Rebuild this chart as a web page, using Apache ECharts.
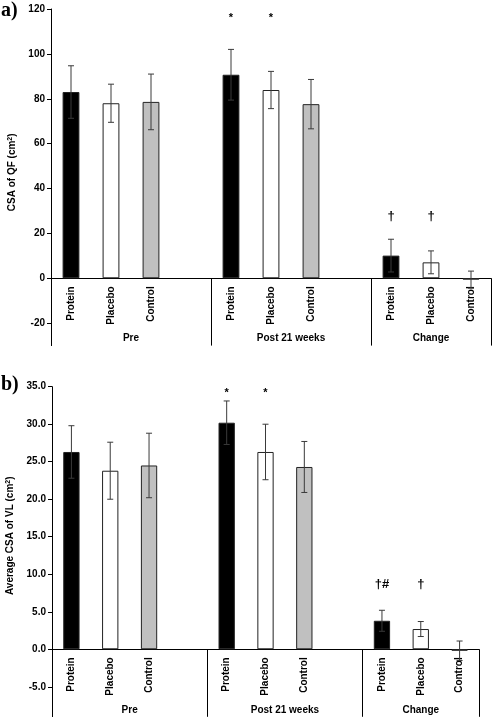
<!DOCTYPE html>
<html>
<head>
<meta charset="utf-8">
<script src="https://cdn.jsdelivr.net/npm/echarts@6/dist/echarts.min.js"></script>
<style>
html,body{margin:0;padding:0;background:#fff;}
#c{width:492px;height:717px;}
</style>
</head>
<body>
<div id="c"></div>
<script>
// ---- data ----
const categories = ['Protein','Placebo','Control','','Protein','Placebo','Control','','Protein','Placebo','Control'];
const groups = ['Pre','Post 21 weeks','Change'];
const groupSizes = [4,4,3];
const qfMean = [83.0, 78.0, 78.6, null, 90.7, 83.9, 77.6, null, 10.1, 7.1, -0.6];
const qfErr  = [11.7, 8.5, 12.4, null, 11.3, 8.3, 11.0, null, 7.3, 5.1, 3.8];
const vlMean = [26.3, 23.8, 24.5, null, 30.2, 26.3, 24.3, null, 3.8, 2.7, -0.2];
const vlErr  = [3.5, 3.8, 4.3, null, 2.9, 3.7, 3.4, null, 1.4, 1.0, 1.3];
const qfSig = ['', '', '', '', '*', '*', '', '', '\u2020', '\u2020', ''];
const vlSig = ['', '', '', '', '*', '*', '', '', '\u2020#', '\u2020', ''];
const qfTicks = [-20, 0, 20, 40, 60, 80, 100, 120];
const vlTicks = [-5, 0, 5, 10, 15, 20, 25, 30, 35];
const qfRange = [-30, 120];
const vlRange = [-9, 35];

// ---- styles ----
const FONT = 'Liberation Sans, Arial, sans-serif';
const fillOf = {Protein:'#000000', Placebo:'#ffffff', Control:'#c0c0c0'};
const panels = [
  {grid:{left:51, top:9, width:440, height:336.6}, mean:qfMean, err:qfErr, sig:qfSig,
   ticks:qfTicks, range:qfRange, name:'CSA of QF (cm{sup|2})', fmt:v=>String(v), namePad:10,
   sigLevel:{'*':116, '\u2020':27.5, '\u2020#':27.5}},
  {grid:{left:52, top:386.7, width:427, height:330.1}, mean:vlMean, err:vlErr, sig:vlSig,
   ticks:vlTicks, range:vlRange, name:'Average CSA of VL (cm{sup|2})', fmt:v=>v.toFixed(1), namePad:32,
   sigLevel:{'*':34.2, '\u2020':8.6, '\u2020#':8.6}}
];

// group boundaries / centers
const bounds = []; const centers = [];
let acc = 0;
groupSizes.forEach(s => { centers.push(acc + s/2); acc += s; bounds.push(acc); });

const grids = [], xAxes = [], yAxes = [], series = [];
panels.forEach((p, pi) => {
  grids.push(Object.assign({containLabel:false, outerBoundsMode:'none'}, p.grid));
  const sepLen = p.grid.height * (-p.range[0]) / (p.range[1] - p.range[0]);
  // category axis, moved up to the zero line
  xAxes.push({
    type:'category', gridIndex:pi, data:categories, boundaryGap:true, position:'bottom', offset:-sepLen,
    axisLine:{onZero:false, lineStyle:{color:'#000', width:1}},
    axisTick:{show:false},
    axisLabel:{interval:0, rotate:90, margin:8, color:'#000', fontFamily:FONT, fontWeight:'bold', fontSize:10},
    splitLine:{show:false}
  });
  // group axis at bottom
  xAxes.push({
    type:'value', gridIndex:pi, position:'bottom', min:0, max:acc,
    axisLine:{show:false, onZero:false},
    axisTick:{show:true, inside:true, length:sepLen, customValues:bounds, lineStyle:{color:'#000', width:1}},
    axisLabel:{inside:true, margin:2, customValues:centers, color:'#000', fontFamily:FONT, fontWeight:'bold', fontSize:10,
      formatter:v => { const i = centers.findIndex(c => Math.abs(c - v) < 1e-6); return i >= 0 ? groups[i] : ''; }},
    splitLine:{show:false}
  });
  yAxes.push({
    type:'value', gridIndex:pi, min:p.range[0], max:p.range[1],
    axisLine:{show:true, onZero:false, lineStyle:{color:'#000', width:1}},
    axisTick:{show:true, length:4, customValues:p.ticks, lineStyle:{color:'#000'}},
    axisLabel:{customValues:p.ticks, margin:6, color:'#000', fontFamily:FONT, fontWeight:'bold', fontSize:10, formatter:p.fmt},
    splitLine:{show:false},
    name:p.name, nameLocation:'middle', nameGap:30,
    nameTextStyle:{color:'#000', fontFamily:FONT, fontWeight:'bold', fontSize:10, padding:[0,0,0,p.namePad],
      rich:{sup:{fontSize:7, fontFamily:FONT, fontWeight:'bold', color:'#000', verticalAlign:'top', padding:[0,0,5,0]}}}
  });
  const xi = pi*2;
  series.push({
    type:'bar', xAxisIndex:xi, yAxisIndex:pi, barWidth:'42%', z:2,
    data:p.mean.map((v,i) => v == null ? null : {value:v, itemStyle:{color:fillOf[categories[i]], borderColor:'#222', borderWidth:1}})
  });
  series.push({
    type:'custom', xAxisIndex:xi, yAxisIndex:pi, z:3,
    data:p.mean.map((v,i) => v == null ? null : [i, v - p.err[i], v + p.err[i]]).filter(d => d),
    renderItem:(params, api) => {
      const x = api.value(0);
      const lo = api.coord([x, api.value(1)]);
      const hi = api.coord([x, api.value(2)]);
      const hw = 3;
      const st = {stroke:'#3a3a3a', lineWidth:1};
      return {type:'group', children:[
        {type:'line', shape:{x1:lo[0], y1:lo[1], x2:hi[0], y2:hi[1]}, style:st},
        {type:'line', shape:{x1:hi[0]-hw, y1:hi[1], x2:hi[0]+hw, y2:hi[1]}, style:st},
        {type:'line', shape:{x1:lo[0]-hw, y1:lo[1], x2:lo[0]+hw, y2:lo[1]}, style:st}
      ]};
    }
  });
  const sigData = [];
  p.sig.forEach((s,i) => { if (s) sigData.push([i, p.sigLevel[s]]); });
  const sigText = p.sig.filter(s => s);
  series.push({
    type:'custom', xAxisIndex:xi, yAxisIndex:pi, z:4,
    data:sigData,
    renderItem:(params, api) => {
      const pt = api.coord([api.value(0), api.value(1)]);
      const t = sigText[params.dataIndex];
      const isStar = t === '*';
      return {type:'text', x:pt[0], y:pt[1], style:{text:t, align:'center', verticalAlign:'middle',
        font:'bold ' + (isStar ? 11 : 13) + 'px ' + FONT, fill:'#000'}};
    }
  });
});

const chart = echarts.init(document.getElementById('c'), null, {renderer:'canvas'});
chart.setOption({
  animation:false,
  backgroundColor:'#fff',
  grid:grids, xAxis:xAxes, yAxis:yAxes, series:series,
  graphic:[
    {type:'text', left:1, top:1, style:{text:'a)', font:'bold 20px Liberation Serif, Times New Roman, serif', fill:'#000'}},
    {type:'text', left:1, top:375, style:{text:'b)', font:'bold 20px Liberation Serif, Times New Roman, serif', fill:'#000'}}
  ]
});
</script>
</body>
</html>
